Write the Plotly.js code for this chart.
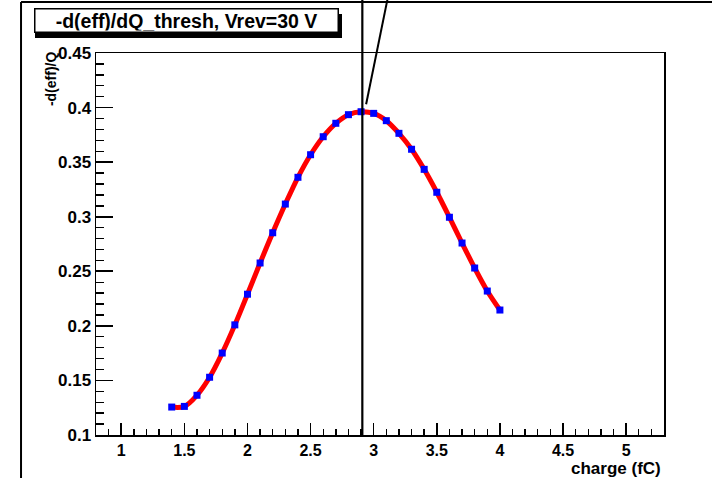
<!DOCTYPE html>
<html>
<head>
<meta charset="utf-8">
<script src="https://cdn.plot.ly/plotly-3.0.1.min.js"></script>
<style>html,body{margin:0;padding:0;background:#fff;}#chart{width:712px;height:478px;}</style>
</head>
<body>
<div id="chart"></div>
<script>
// ---- data ----
const charge = [1.4, 1.5, 1.6, 1.7, 1.8, 1.9, 2.0, 2.1, 2.2, 2.3, 2.4, 2.5, 2.6, 2.7,
                2.8, 2.9, 3.0, 3.1, 3.2, 3.3, 3.4, 3.5, 3.6, 3.7, 3.8, 3.9, 4.0];
const derivEff = [0.1256, 0.1262, 0.1364, 0.1529, 0.1751, 0.2009, 0.2290, 0.2576, 0.2853,
                  0.3116, 0.3361, 0.3568, 0.3733, 0.3856, 0.3935, 0.3962, 0.3947, 0.3880,
                  0.3764, 0.3618, 0.3434, 0.3224, 0.2995, 0.2759, 0.2530, 0.2319, 0.2145];
const xTickVals = [1, 1.5, 2, 2.5, 3, 3.5, 4, 4.5, 5];
const xTickLabels = ['1', '1.5', '2', '2.5', '3', '3.5', '4', '4.5', '5'];
const yTickVals = [0.1, 0.15, 0.2, 0.25, 0.3, 0.35, 0.4, 0.45];
const yTickLabels = ['0.1', '0.15', '0.2', '0.25', '0.3', '0.35', '0.4', '0.45'];
const peakLineX = 2.91;              // vertical marker line (charge, fC)
const pointerX = [2.94, 3.115];      // pointer line ends (charge, fC)
const pointerY = [0.403];            // pointer line lower end (value)
const chartTitle = '-d(eff)/dQ_thresh, Vrev=30 V';
const xTitle = 'charge (fC)';
const yTitle = '-d(eff)/Q';

const FONT = 'Liberation Sans, Arial, Helvetica, sans-serif';
const yRange = [0.1, 0.45];
const toPaperY = v => (v - yRange[0]) / (yRange[1] - yRange[0]);

const trace = {
  x: charge, y: derivEff, type: 'scatter', mode: 'lines+markers',
  line: {color: '#ff0000', width: 5, shape: 'spline', smoothing: 1},
  marker: {symbol: 'square', color: '#0000ff', size: 7, line: {width: 0}},
  hoverinfo: 'x+y'
};

const axisCommon = {
  showgrid: false, zeroline: false, showline: true, linecolor: '#000', linewidth: 1.5,
  mirror: true, ticks: 'inside', tickcolor: '#000', tickwidth: 1.6, tickmode: 'array'
};

const layout = {
  width: 712, height: 478,
  margin: {l: 96, r: 48, t: 53, b: 43, pad: 0},
  paper_bgcolor: '#fff', plot_bgcolor: '#fff', showlegend: false,
  xaxis: Object.assign({}, axisCommon, {
    range: [0.8, 5.3], tickvals: xTickVals, ticktext: xTickLabels, ticklen: 12,
    tickfont: {family: FONT, size: 16, color: '#000', weight: 'bold'},
    minor: {ticks: 'inside', ticklen: 6, dtick: 0.1, tick0: 0, tickcolor: '#000', tickwidth: 1.4, showgrid: false}
  }),
  yaxis: Object.assign({}, axisCommon, {
    range: yRange, tickvals: yTickVals, ticktext: yTickLabels, ticklen: 17,
    tickfont: {family: FONT, size: 17, color: '#000', weight: 'bold'},
    minor: {ticks: 'inside', ticklen: 8, dtick: 0.01, tick0: 0, tickcolor: '#000', tickwidth: 1.4, showgrid: false}
  }),
  shapes: [
    // outer canvas frame (top and left edges)
    {type: 'line', xref: 'paper', yref: 'paper', x0: -0.132, x1: 1.09, y0: 1.1335, y1: 1.1335, line: {color: '#000', width: 2}},
    {type: 'line', xref: 'paper', yref: 'paper', x0: -0.132, x1: -0.132, y0: 1.1335, y1: -0.12, line: {color: '#000', width: 2}},
    // title box shadow
    {type: 'rect', xref: 'paper', yref: 'paper', x0: -0.1074, x1: 0.4331, y0: 1.1021, y1: 1.0393, fillcolor: '#000', line: {width: 0}},
    // vertical marker line
    {type: 'line', xref: 'x', yref: 'paper', x0: peakLineX, x1: peakLineX, y0: 0, y1: 1.15, line: {color: '#000', width: 2.2}},
    // pointer line
    {type: 'line', xref: 'x', yref: 'paper', x0: pointerX[0], x1: pointerX[1], y0: toPaperY(pointerY[0]), y1: 1.15, line: {color: '#000', width: 2}}
  ],
  annotations: [
    {text: chartTitle, xref: 'paper', yref: 'paper', x: 0.1585, y: 1.0838, xanchor: 'center', yanchor: 'middle',
     showarrow: false, bgcolor: '#fff', bordercolor: '#000', borderwidth: 1.5, borderpad: 1,
     width: 300, height: 20, align: 'center',
     font: {family: FONT, size: 19.5, color: '#000', weight: 'bold'}},
    {text: yTitle, xref: 'paper', yref: 'paper', x: -0.079, y: 0.932, xanchor: 'center', yanchor: 'middle',
     textangle: -90, showarrow: false,
     font: {family: FONT, size: 14, color: '#000', weight: 'bold'}},
    {text: xTitle, xref: 'paper', yref: 'paper', x: 0.998, y: -0.088, xanchor: 'right', yanchor: 'middle',
     showarrow: false,
     font: {family: FONT, size: 17, color: '#000', weight: 'bold'}}
  ]
};

Plotly.newPlot('chart', [trace], layout, {displayModeBar: false, staticPlot: true});
</script>
</body>
</html>
